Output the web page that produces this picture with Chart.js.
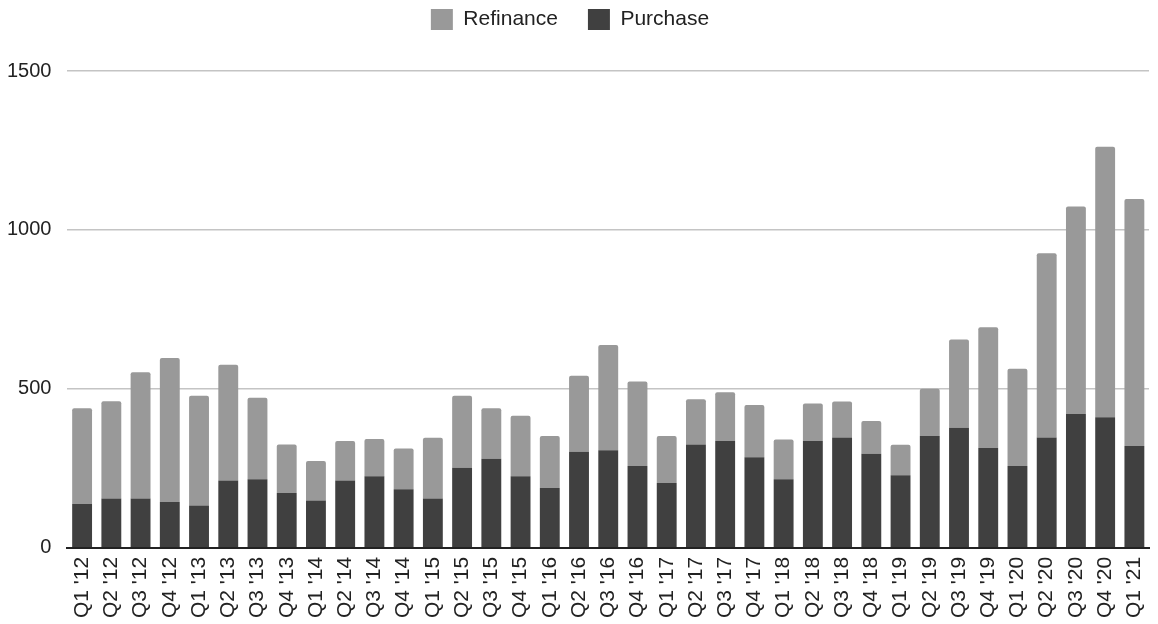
<!DOCTYPE html>
<html>
<head>
<meta charset="utf-8">
<script src="https://cdn.jsdelivr.net/npm/chart.js@4/dist/chart.umd.min.js"></script>
<style>
  html, body { margin: 0; padding: 0; background: #fff; }
  #wrap { width: 1158px; height: 624px; position: relative; }
</style>
</head>
<body>
<div id="wrap"><canvas id="myChart"></canvas></div>
<script>
// quarters, Q1 '12 .. Q1 '21
const quarters = [
  "Q1 '12", "Q2 '12", "Q3 '12", "Q4 '12",
  "Q1 '13", "Q2 '13", "Q3 '13", "Q4 '13",
  "Q1 '14", "Q2 '14", "Q3 '14", "Q4 '14",
  "Q1 '15", "Q2 '15", "Q3 '15", "Q4 '15",
  "Q1 '16", "Q2 '16", "Q3 '16", "Q4 '16",
  "Q1 '17", "Q2 '17", "Q3 '17", "Q4 '17",
  "Q1 '18", "Q2 '18", "Q3 '18", "Q4 '18",
  "Q1 '19", "Q2 '19", "Q3 '19", "Q4 '19",
  "Q1 '20", "Q2 '20", "Q3 '20", "Q4 '20",
  "Q1 '21"
];

const purchase = [
  138, 155, 155, 144,
  133, 212, 216, 172,
  149, 212, 225, 184,
  155, 252, 280, 225,
  188, 302, 307, 257,
  204, 325, 336, 285,
  216, 336, 347, 296,
  228, 352, 378, 314,
  257, 347, 421, 411,
  320
];

const refinance = [
  301, 306, 397, 453,
  345, 364, 256, 153,
  124, 124, 117, 128,
  191, 226, 159, 190,
  164, 239, 331, 266,
  148, 142, 153, 164,
  125, 118, 113, 103,
  96, 148, 277, 380,
  306, 580, 653, 851,
  777
];

const yTicks = [0, 500, 1000, 1500];

const FONT = 'Liberation Sans, Arial, sans-serif';

// push the plot down a bit below the legend
const legendGap = {
  id: 'legendGap',
  beforeInit: function (chart) {
    const fit = chart.legend.fit;
    chart.legend.fit = function () {
      fit.bind(chart.legend)();
      this.height += 31;
    };
  }
};

const ctx = document.getElementById('myChart');

new Chart(ctx, {
  type: 'bar',
  data: {
    labels: quarters,
    datasets: [{
      label: 'Purchase',
      data: purchase,
      backgroundColor: '#404040',
      borderWidth: 0,
      barPercentage: 0.68,
      categoryPercentage: 1
    }, {
      label: 'Refinance',
      data: refinance,
      backgroundColor: '#999999',
      borderWidth: 0,
      borderRadius: { topLeft: 2, topRight: 2 },
      borderSkipped: 'start',
      barPercentage: 0.68,
      categoryPercentage: 1
    }]
  },
  plugins: [legendGap],
  options: {
    responsive: true,
    maintainAspectRatio: false,
    animation: false,
    layout: { padding: { left: -9, right: 9, top: -21, bottom: -3 } },
    plugins: {
      tooltip: { enabled: false },
      legend: {
        display: true,
        position: 'top',
        reverse: true,
        labels: {
          boxWidth: 22,
          boxHeight: 21,
          padding: 30,
          color: '#222',
          font: { family: FONT, size: 21 }
        }
      }
    },
    scales: {
      x: {
        stacked: true,
        grid: { display: false, drawTicks: false },
        border: { display: true, color: '#222', width: 2 },
        afterFit: function (axis) {
          // rotated labels: no side overhang
          axis.paddingLeft = 0;
          axis.paddingRight = 0;
        },
        ticks: {
          color: '#222',
          font: { family: FONT, size: 21 },
          minRotation: 90,
          maxRotation: 90,
          autoSkip: false,
          padding: 9
        }
      },
      y: {
        stacked: true,
        min: 0,
        max: 1500,
        afterBuildTicks: function (axis) {
          axis.ticks = yTicks.map(function (v) { return { value: v }; });
        },
        grid: { color: '#c4c4c4', lineWidth: 1.5, drawTicks: false },
        border: { display: false },
        ticks: {
          color: '#222',
          font: { family: FONT, size: 20 },
          padding: 16,
          callback: function (v) { return String(v); }
        }
      }
    }
  }
});
</script>
</body>
</html>
